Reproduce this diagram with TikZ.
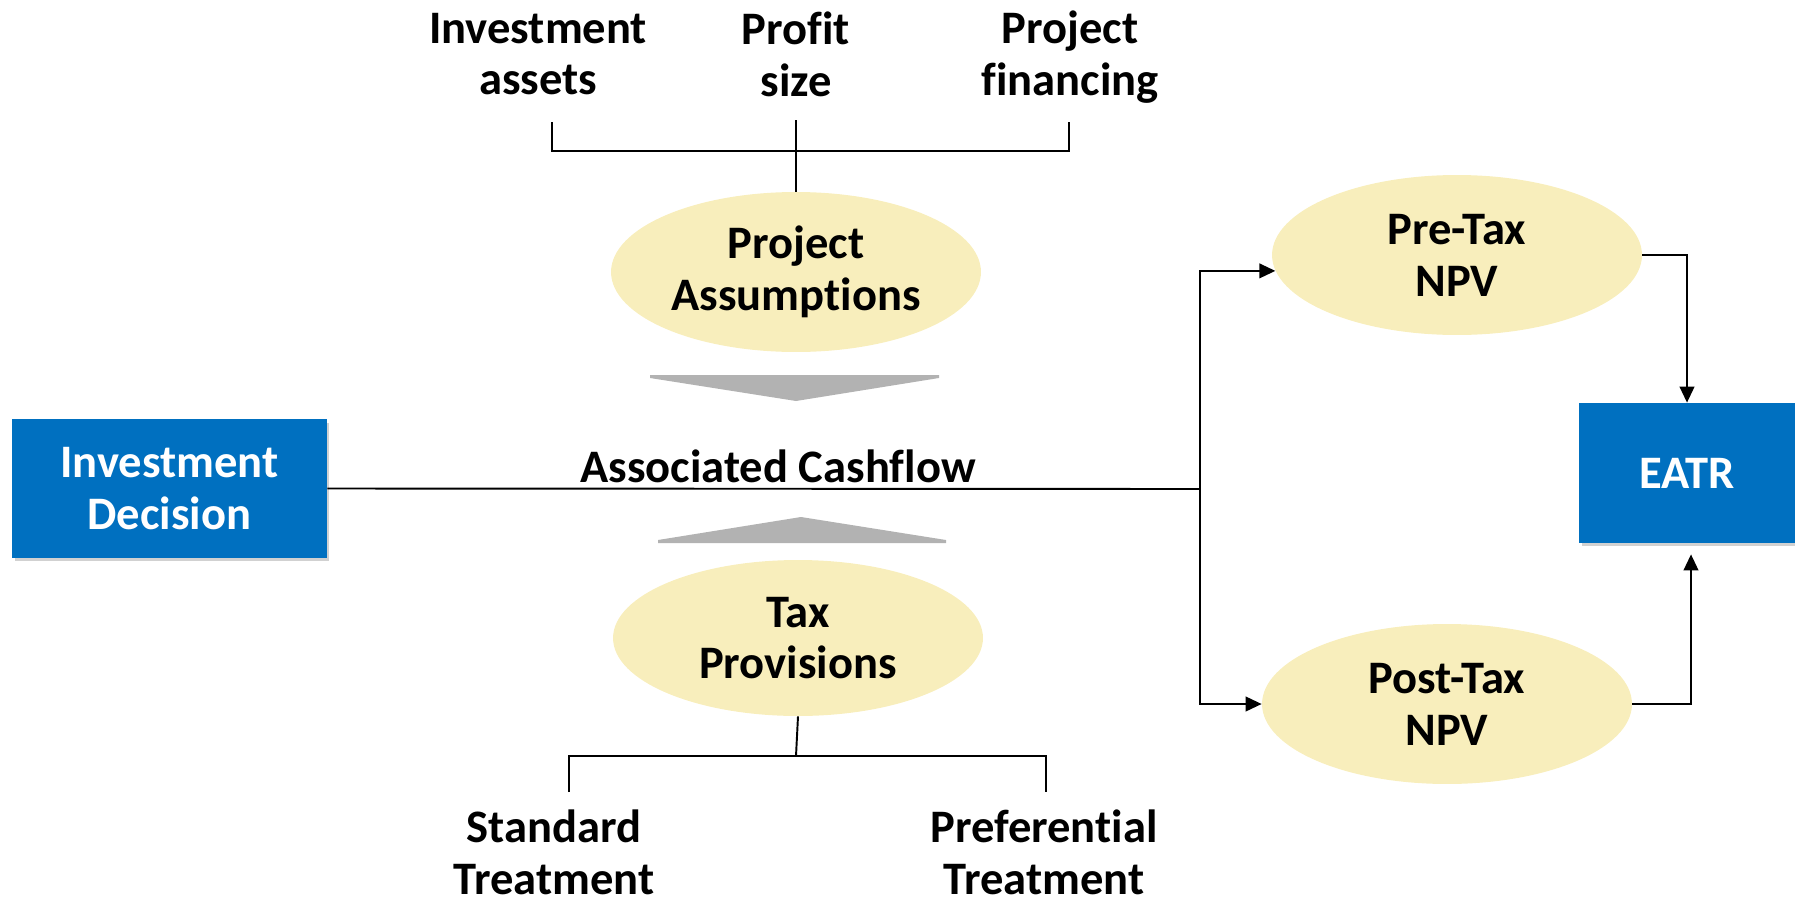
\documentclass[tikz,border=0pt]{standalone}
\usepackage{fontspec}
\setmainfont{Carlito}[Ligatures=NoCommon, RawFeature={-liga;-clig}]
\usetikzlibrary{arrows.meta,shapes.geometric,shadows}
\definecolor{boxblue}{HTML}{0070C0}
\definecolor{blobyellow}{HTML}{F8EEBC}
\definecolor{wedgegray}{HTML}{B2B2B2}
\tikzset{
  decbox/.style={rectangle, fill=boxblue, text=white, align=center, inner sep=0pt,
    drop shadow={shadow xshift=0.05cm, shadow yshift=-0.07cm, fill=black!40, opacity=.45}},
  blob/.style={ellipse, fill=blobyellow, align=center, inner sep=0pt,
    minimum width=7.4cm, minimum height=3.2cm},
  lbl/.style={align=center, inner sep=0pt},
  wire/.style={line width=1.1pt},
  arr/.style={line width=1.35pt, -{Triangle[length=0.32cm, width=0.29cm]}},
}

\begin{document}
\begin{tikzpicture}[x=0.02cm, y=-0.02cm, font=\fontsize{26.5}{29.5}\selectfont\bfseries]
\useasboundingbox (0,0) rectangle (1795,899);

\node [decbox, minimum width=6.3cm, minimum height=2.78cm] (dec) at (169.5,488.5) {Investment\\Decision};
\node [decbox, minimum width=4.32cm, minimum height=2.8cm] (eatr) at (1687,473) {EATR};

\node [lbl] (assets) at (538,54) {Investment\\assets};
\node [lbl] (profit) at (796,54) {Profit\\size};
\node [lbl] (financing) at (1070,57.5) {Project\\financing};
\node [blob] (assume) at (796,272) {Project\\Assumptions};

\node [lbl] (cashflow) at (778,466) {Associated Cashflow};
\fill [wedgegray] (650,375) -- (939,375) -- (939,378) -- (796,401) -- (650,378) -- cycle;
\fill [wedgegray] (658,543) -- (946,543) -- (946,540) -- (801,517) -- (658,540) -- cycle;

\node [blob, minimum height=3.12cm] (taxprov) at (798,638) {Tax\\Provisions};
\node [lbl] (standard) at (554,852) {Standard\\Treatment};
\node [lbl] (preferential) at (1044,852) {Preferential\\Treatment};

\node [blob] (pretax) at (1457,255) {Pre-Tax\\NPV};
\node [blob] (posttax) at (1447,704) {Post-Tax\\NPV};

\coordinate (tkA) at (552,122);
\coordinate (tkB) at (796,120);
\coordinate (tkC) at (1069,122);
\coordinate (topbar) at (796,151);
\draw [wire] (tkA) -- (tkA |- topbar) -- (tkC |- topbar) -- (tkC);
\draw [wire] (tkB) -- (assume.north);

\coordinate (tkD) at (569,792);
\coordinate (tkE) at (1046,792);
\coordinate (lowbar) at (796,756);
\draw [wire] (taxprov.south) -- (lowbar);
\draw [wire] (tkD) -- (tkD |- lowbar) -- (tkE |- lowbar) -- (tkE);

\coordinate (split) at (1200,489);
\draw [wire] (dec.east) -- (split);
\draw [arr] (split) |- (pretax.185);
\draw [arr] (split) |- (posttax.west);
\draw [arr] (pretax.east) -| (eatr.north);
\draw [arr, shorten >=0.22cm] (posttax.east) -| ([xshift=0.08cm]eatr.south);
\end{tikzpicture}
\end{document}
